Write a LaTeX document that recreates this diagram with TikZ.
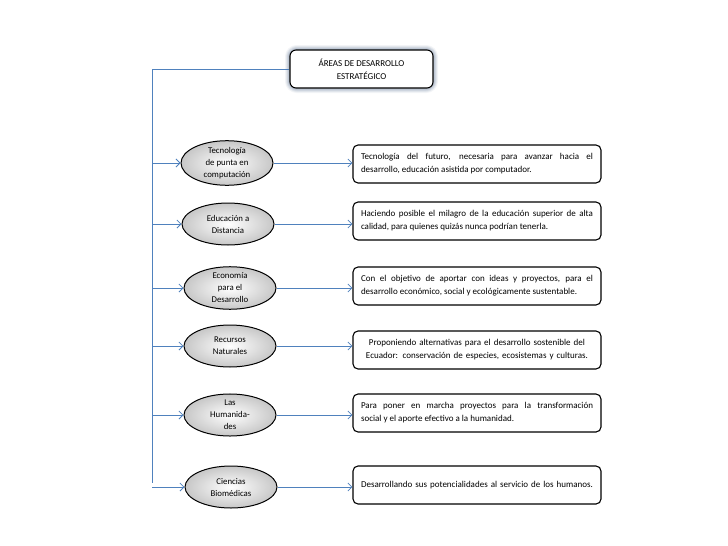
\documentclass[tikz,border=0pt]{standalone}
\usepackage{fontspec}
\setmainfont{Carlito}
\usetikzlibrary{arrows.meta,shapes.geometric,calc}
\hyphenpenalty=10000
\definecolor{conn}{HTML}{4F81BD}
\definecolor{glow}{HTML}{9AA8BC}
\tikzset{
  conline/.style={draw=conn, line width=0.9pt},
  conarrow/.style={conline, -{Straight Barb[length=4pt,width=8pt,line width=0.8pt]}},
  area/.style={ellipse, draw=black, line width=1pt, minimum width=92pt, minimum height=42pt,
    inner sep=0pt, align=center, font=\fontsize{8.8}{12}\selectfont,
    inner color=white, outer color=black!22},
  desc/.style={draw=black, line width=1.1pt, rounded corners=5pt, fill=white,
    minimum width=248pt, minimum height=38pt, text width=232pt, inner sep=0pt,
    font=\fontsize{9}{13}\selectfont, align=justify},
  titlebox/.style={draw=black, line width=1.1pt, rounded corners=6pt, fill=white,
    minimum width=143pt, minimum height=38pt, align=center,
    font=\fontsize{9}{13}\selectfont}
}
\begin{document}
\begin{tikzpicture}[x=1pt,y=-1pt]
\useasboundingbox (0,0) rectangle (728,546);
% title glow
\foreach \w/\o in {10/0.12,8/0.18,6/0.25,4/0.35}{
  \draw[glow, line width=\w pt, opacity=\o, rounded corners=7pt] (290,50) rectangle (433,88);
}
\node[titlebox] (title) at (361.5,69) {ÁREAS DE DESARROLLO\\ESTRATÉGICO};

\coordinate (vtop) at (152,69);
\coordinate (vbot) at (152,483);
\draw[conline] (title.west) -- (vtop) -- (vbot);

\node[area] (e1) at (227,163) {Tecnología\\de punta en\\computación};
\node[area] (e2) at (228,224) {Educación a\\Distancia};
\node[area] (e3) at (230,288) {Economía\\para el\\Desarrollo};
\node[area] (e4) at (230,346) {Recursos\\Naturales};
\node[area] (e5) at (230,415) {Las\\Humanida-\\des};
\node[area] (e6) at (231,487) {Ciencias\\Biomédicas};

\node[desc] (d1) at (477,164) {Tecnología del futuro, necesaria para avanzar hacia el\linebreak desarrollo, educación asistida por computador.};
\node[desc] (d2) at (477,221) {Haciendo posible el milagro de la educación superior de alta\linebreak calidad, para quienes quizás nunca podrían tenerla.};
\node[desc] (d3) at (477,286) {Con el objetivo de aportar con ideas y proyectos, para el\linebreak desarrollo económico, social y ecológicamente sustentable.};
\node[desc, align=center] (d4) at (477,350) {Proponiendo\ alternativas para el desarrollo sostenible del\\Ecuador: conservación de especies, ecosistemas y culturas.};
\node[desc] (d5) at (477,413) {Para poner en marcha proyectos para la transformación\linebreak social y el aporte efectivo a la humanidad.};
\node[desc, align=left] (d6) at (477,485) {Desarrollando sus potencialidades al servicio de los humanos.};

\foreach \i in {1,...,6}{
  \draw[conarrow] (e\i.west -| vtop) -- (e\i.west);
  \draw[conarrow] (e\i.east) -- (e\i.east -| d\i.west);
}
\end{tikzpicture}
\end{document}
